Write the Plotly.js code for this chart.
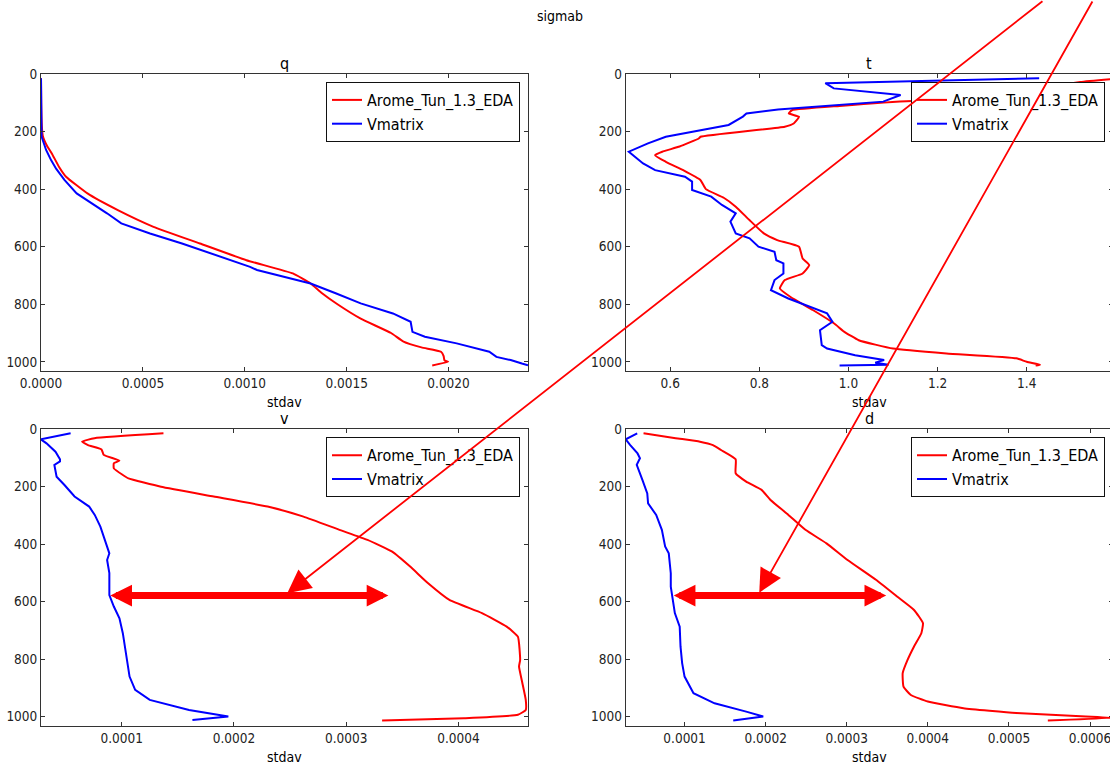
<!DOCTYPE html>
<html>
<head>
<meta charset="utf-8">
<script src="https://cdn.plot.ly/plotly-3.0.1.min.js"></script>
<style>
html,body{margin:0;padding:0;overflow:hidden;background:#fff;}
#chart{width:1120px;height:764px;}
</style>
</head>
<body>
<div id="chart"></div>
<script>
// ---- data (stdav vs level) ----
const seriesNames = ["Arome_Tun_1.3_EDA", "Vmatrix"];
const panelTitles = ["q", "t", "v", "d"];
const figTitle = "sigmab";
const xTitle = "stdav";
const yTicks = [0, 200, 400, 600, 800, 1000];

const qAromeLev = [15, 100, 180, 215, 250, 276, 322, 357, 415, 473, 531, 589, 647, 693, 728, 760, 800, 850, 900, 930, 950, 965, 980, 995, 1000, 1013];
const qAromeVal = [0, 0.000001, 0.000004, 0.000009, 0.00003, 0.000053, 0.000088, 0.000123, 0.000228, 0.000377, 0.000552, 0.00078, 0.001008, 0.001236, 0.001323, 0.001376, 0.001455, 0.001569, 0.001718, 0.001779, 0.001867, 0.001963, 0.001976, 0.00198, 0.001998, 0.00192];
const qVmatLev = [15, 150, 218, 264, 300, 330, 368, 415, 450, 484, 519, 554, 589, 623, 647, 670, 681, 705, 728, 762, 797, 832, 861, 896, 913, 936, 965, 983, 994, 1006, 1012];
const qVmatVal = [0, 0.000001, 0.000003, 0.000025, 0.00005, 0.000075, 0.000115, 0.000175, 0.000254, 0.000324, 0.000394, 0.000535, 0.000692, 0.000833, 0.00094, 0.001026, 0.00106, 0.0012, 0.001323, 0.001446, 0.001569, 0.001727, 0.001814, 0.001823, 0.001884, 0.00204, 0.0022, 0.002235, 0.002305, 0.00236, 0.00239];

const tAromeLev = [14, 28, 50, 80, 92, 94, 111, 126, 137, 149, 172, 183, 218, 224, 252, 270, 282, 305, 335, 369, 400, 430, 461, 508, 554, 577, 600, 641, 664, 693, 716, 745, 775, 820, 867, 895, 925, 954, 971, 988, 1000, 1010, 1013];
const tAromeVal = [1.62, 1.52, 1.45, 1.38, 1.25, 1.143, 0.98, 0.873, 0.866, 0.889, 0.877, 0.857, 0.668, 0.664, 0.621, 0.582, 0.566, 0.59, 0.63, 0.668, 0.68, 0.72, 0.747, 0.778, 0.81, 0.84, 0.889, 0.897, 0.912, 0.897, 0.857, 0.846, 0.87, 0.92, 0.968, 0.99, 1.023, 1.10, 1.22, 1.377, 1.40, 1.43, 1.42];
const tVmatLev = [15, 32, 50, 73, 96, 123, 137, 148, 177, 195, 218, 241, 270, 311, 334, 357, 374, 403, 426, 455, 484, 513, 554, 571, 600, 618, 647, 658, 693, 716, 751, 780, 803, 832, 861, 890, 942, 954, 977, 994, 1003, 1010, 1013];
const tVmatVal = [1.428, 0.948, 0.967, 1.117, 1.078, 0.842, 0.771, 0.763, 0.731, 0.668, 0.59, 0.55, 0.507, 0.539, 0.566, 0.633, 0.649, 0.649, 0.692, 0.716, 0.747, 0.735, 0.747, 0.778, 0.798, 0.834, 0.838, 0.854, 0.854, 0.834, 0.826, 0.865, 0.905, 0.952, 0.964, 0.936, 0.94, 0.952, 1.015, 1.08, 1.06, 1.09, 0.98];

const vAromeLev = [14, 31, 43, 55, 70, 89, 109, 118, 136, 159, 171, 200, 234, 269, 304, 350, 385, 426, 478, 536, 594, 640, 687, 722, 803, 826, 884, 942, 977, 994, 1006, 1014];
const vAromeVal = [0.0001372, 0.0000758, 0.0000647, 0.00007, 0.000082, 0.000084, 0.000098, 0.000093, 0.000093, 0.000101, 0.000106, 0.000135, 0.000182, 0.00023, 0.000262, 0.000294, 0.000319, 0.000341, 0.000357, 0.000373, 0.000392, 0.000421, 0.000443, 0.000453, 0.000455, 0.000454, 0.000457, 0.00046, 0.00046, 0.000453, 0.000405, 0.000332];
const vVmatLev = [14, 35, 49, 78, 104, 112, 124, 165, 194, 234, 269, 298, 339, 374, 408, 432, 455, 501, 548, 577, 617, 658, 710, 780, 826, 861, 907, 942, 977, 1000, 1012];
const vVmatVal = [0.0000545, 0.000028, 0.000033, 0.000041, 0.000045, 0.000045, 0.00004, 0.000042, 0.000049, 0.000058, 0.000071, 0.000076, 0.000081, 0.000084, 0.000087, 0.000089, 0.000087, 0.000089, 0.000089, 0.000089, 0.000093, 0.000098, 0.000101, 0.000104, 0.000106, 0.000107, 0.000112, 0.000125, 0.00016, 0.000195, 0.000163];

const dAromeLev = [14, 31, 43, 55, 72, 104, 153, 182, 211, 246, 298, 350, 397, 455, 524, 582, 629, 675, 710, 756, 803, 849, 896, 925, 948, 971, 988, 1000, 1005, 1014];
const dAromeVal = [0.0000494, 0.000089, 0.000119, 0.000135, 0.000145, 0.000163, 0.000163, 0.000176, 0.000195, 0.000206, 0.000228, 0.000249, 0.000275, 0.000301, 0.000336, 0.000362, 0.000383, 0.000394, 0.000392, 0.000383, 0.000375, 0.000369, 0.00037, 0.000379, 0.0004, 0.000444, 0.000509, 0.000595, 0.000628, 0.000548];
const dVmatLev = [14, 35, 55, 84, 101, 124, 176, 223, 258, 298, 350, 408, 432, 501, 548, 582, 640, 687, 756, 814, 861, 919, 954, 983, 1000, 1014];
const dVmatVal = [0.0000416, 0.0000274, 0.000033, 0.000042, 0.000045, 0.000041, 0.000048, 0.000054, 0.000055, 0.000065, 0.000072, 0.000076, 0.0000805, 0.000083, 0.000083, 0.000085, 0.000088, 0.000094, 0.000095, 0.000097, 0.0001, 0.000111, 0.000137, 0.000176, 0.000197, 0.00016];

// ---- layout helpers ----
const W = 1120, H = 764;
const FONT = "DejaVu Sans Condensed, DejaVu Sans, sans-serif";
const RED = "#ff0000", BLUE = "#0000ff";
const px = v => v / W, py = v => 1 - v / H;

const colL = [px(41), px(528)], colR = [px(625.7), px(1112.7)];
const rowT = [py(371), py(74)], rowB = [py(725.7), py(429.3)];

const panels = [
  {xa: "x",  ya: "y",  lg: "legend",  a: [qAromeVal, qAromeLev], b: [qVmatVal, qVmatLev]},
  {xa: "x2", ya: "y2", lg: "legend2", a: [tAromeVal, tAromeLev], b: [tVmatVal, tVmatLev]},
  {xa: "x3", ya: "y3", lg: "legend3", a: [vAromeVal, vAromeLev], b: [vVmatVal, vVmatLev]},
  {xa: "x4", ya: "y4", lg: "legend4", a: [dAromeVal, dAromeLev], b: [dVmatVal, dVmatLev]}
];

const traces = [];
panels.forEach(p => {
  traces.push({x: p.a[0], y: p.a[1], xaxis: p.xa, yaxis: p.ya, legend: p.lg, name: seriesNames[0],
    type: "scatter", mode: "lines", line: {color: RED, width: 2, shape: "spline", smoothing: 0.4}});
  traces.push({x: p.b[0], y: p.b[1], xaxis: p.xa, yaxis: p.ya, legend: p.lg, name: seriesNames[1],
    type: "scatter", mode: "lines", line: {color: BLUE, width: 2}});
});

function xax(domain, range, dtick, fmt, anchor) {
  return {domain, range, dtick, tick0: 0, tickformat: fmt, anchor,
    showline: true, linecolor: "#333", linewidth: 1, mirror: "ticks",
    ticks: "inside", ticklen: 4, tickcolor: "#333", showgrid: false, zeroline: false,
    tickfont: {family: FONT, size: 13.5, color: "#222"}, fixedrange: true};
}
function yax(domain, anchor) {
  return {domain, range: [1032, 0], tickvals: yTicks, anchor,
    showline: true, linecolor: "#333", linewidth: 1, mirror: "ticks",
    ticks: "inside", ticklen: 4, tickcolor: "#333", showgrid: false, zeroline: false,
    tickfont: {family: FONT, size: 13.5, color: "#222"}, fixedrange: true};
}

function leg(xr, ytop) {
  return {x: px(xr), y: py(ytop), xanchor: "right", yanchor: "top",
    bgcolor: "#fff", bordercolor: "#111", borderwidth: 1,
    font: {family: FONT, size: 16, color: "#000"}, traceorder: "normal"};
}

const txt = (t, xp, yp, size) => ({text: t, xref: "paper", yref: "paper", x: xp, y: yp,
  xanchor: "center", yanchor: "middle", showarrow: false, font: {family: FONT, size, color: "#000"}});

const annotations = [
  txt(figTitle, px(560), py(16), 14),
  txt(panelTitles[0], px(284.5), py(63), 16),
  txt(panelTitles[1], px(869.2), py(63), 16),
  txt(panelTitles[2], px(284.5), py(418), 16),
  txt(panelTitles[3], px(869.2), py(418), 16),
  txt(xTitle, px(284.5), py(402), 14),
  txt(xTitle, px(869.2), py(402), 14),
  txt(xTitle, px(284.5), py(757), 14),
  txt(xTitle, px(869.2), py(757), 14),
  // thin pointer arrows coming from top right
  {xref: "x3", yref: "y3", x: 0.0002475, y: 570.6, ax: 756.7, ay: -613.3, text: "", showarrow: true,
    arrowhead: 2, arrowsize: 2.6, arrowwidth: 1.8, arrowcolor: RED},
  {xref: "x4", yref: "y4", x: 0.0001921, y: 569, ax: 334, ay: -612.7, text: "", showarrow: true,
    arrowhead: 2, arrowsize: 2.6, arrowwidth: 1.8, arrowcolor: RED},
  // thick double arrows
  {xref: "x3", yref: "y3", x: 0.0003376, y: 579, axref: "x3", ayref: "y3", ax: 0.0000885, ay: 579,
    text: "", showarrow: true, arrowhead: 2, startarrowhead: 2, arrowside: "end+start",
    arrowsize: 0.62, startarrowsize: 0.62, arrowwidth: 7, arrowcolor: RED},
  {xref: "x4", yref: "y4", x: 0.0003487, y: 579, axref: "x4", ayref: "y4", ax: 0.0000848, ay: 579,
    text: "", showarrow: true, arrowhead: 2, startarrowhead: 2, arrowside: "end+start",
    arrowsize: 0.62, startarrowsize: 0.62, arrowwidth: 7, arrowcolor: RED}
];

const layout = {
  width: W, height: H,
  margin: {l: 0, r: 0, t: 0, b: 0},
  paper_bgcolor: "#fff", plot_bgcolor: "#fff",
  font: {family: FONT, color: "#000"},
  xaxis: xax(colL, [0, 0.00239], 0.0005, ".4f", "y"),
  yaxis: yax(rowT, "x"),
  xaxis2: xax(colR, [0.5, 1.593], 0.2, ".1f", "y2"),
  yaxis2: yax(rowT, "x2"),
  xaxis3: xax(colL, [0.0000281, 0.000462], 0.0001, ".4f", "y3"),
  yaxis3: yax(rowB, "x3"),
  xaxis4: xax(colR, [0.0000274, 0.000628], 0.0001, ".4f", "y4"),
  yaxis4: yax(rowB, "x4"),
  legend: leg(520, 82),
  legend2: leg(1105, 82),
  legend3: leg(520, 437.3),
  legend4: leg(1105, 437.3),
  annotations,
  showlegend: true
};

Plotly.newPlot("chart", traces, layout, {displayModeBar: false, staticPlot: true});
</script>
</body>
</html>
